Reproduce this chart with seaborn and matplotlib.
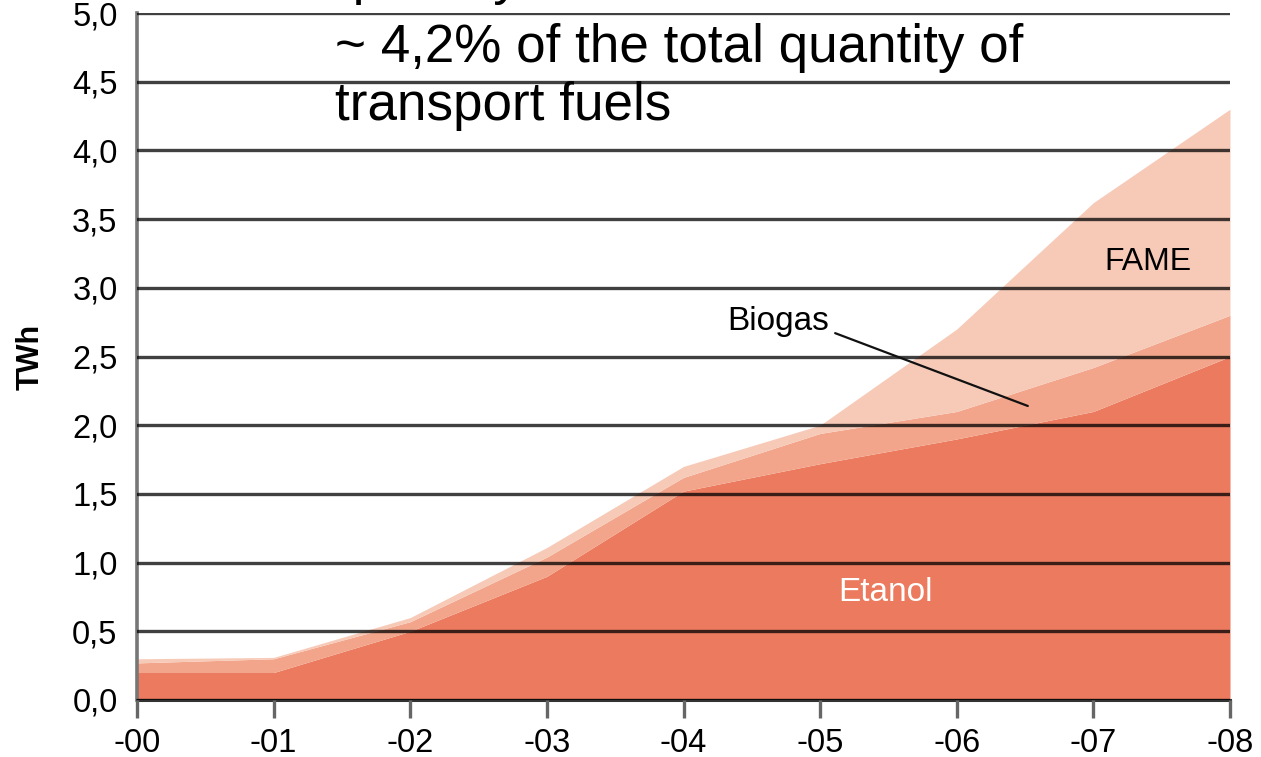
import pandas as pd
import seaborn as sns
import matplotlib.pyplot as plt
from matplotlib.lines import Line2D

# Data (TWh, stacked)
years = ["-00", "-01", "-02", "-03", "-04", "-05", "-06", "-07", "-08"]
etanol = [0.20, 0.20, 0.50, 0.90, 1.52, 1.72, 1.90, 2.10, 2.50]
biogas = [0.07, 0.10, 0.07, 0.14, 0.10, 0.22, 0.20, 0.32, 0.30]
fame = [0.03, 0.01, 0.03, 0.07, 0.08, 0.06, 0.60, 1.20, 1.50]

y_ticks = [0.0, 0.5, 1.0, 1.5, 2.0, 2.5, 3.0, 3.5, 4.0, 4.5, 5.0]
y_ticklabels = ["0,0", "0,5", "1,0", "1,5", "2,0", "2,5", "3,0", "3,5", "4,0", "4,5", "5,0"]

note_lines = ["quantity", "~ 4,2% of the total quantity of", "transport fuels"]

colors = {"Etanol": "#EB7A5E", "Biogas": "#F2A58A", "FAME": "#F7CAB8"}

df = pd.DataFrame({"year": years, "Etanol": etanol, "Biogas": biogas, "FAME": fame})
df["x"] = range(len(df))

sns.set_theme(style="white")
plt.rcParams["font.family"] = ["Liberation Sans", "DejaVu Sans"]

fig = plt.figure(figsize=(12.61, 7.57), dpi=100)
ax = fig.add_axes([137 / 1261, 57 / 757, 1093 / 1261, 687 / 757])

ax.stackplot(df["x"], df["Etanol"], df["Biogas"], df["FAME"],
             colors=[colors["Etanol"], colors["Biogas"], colors["FAME"]],
             linewidth=0, zorder=1)

ax.set_xlim(0, len(years) - 1)
ax.set_ylim(0, 5)
ax.set_xticks(df["x"])
ax.set_xticklabels(df["year"], fontsize=23.5, color="black")
ax.set_yticks(y_ticks)
ax.set_yticklabels(y_ticklabels, fontsize=23.5, color="black")

# horizontal grid drawn on top of the areas
ax.set_axisbelow(False)
ax.yaxis.grid(True, color="black", alpha=0.75, linewidth=2.4)
ax.xaxis.grid(False)

sns.despine(ax=ax, top=True, right=True)
ax.spines["left"].set_color("#777777")
ax.spines["left"].set_linewidth(2.6)
ax.spines["bottom"].set_color("#333333")
ax.spines["bottom"].set_linewidth(2.2)

ax.tick_params(axis="x", direction="out", length=13, width=2.4, color="#666666",
               pad=7, bottom=True)
ax.tick_params(axis="y", length=0, pad=14)

ax.set_ylabel("TWh", fontsize=22, fontweight="bold", labelpad=19, color="black")

# series labels
ax.text(7.40, 3.19, "FAME", fontsize=23, ha="center", va="center", color="black")
ax.text(4.32, 2.69, "Biogas", fontsize=24, ha="left", va="baseline", color="black")
ax.text(5.48, 0.78, "Etanol", fontsize=24, ha="center", va="center", color="white")
ax.add_line(Line2D([5.11, 6.52], [2.67, 2.14], color="#111111", linewidth=1.6, zorder=4))

# slide note on top of the chart (first line is cut by the top edge, as in the source)
note_x = 1.45
note_y = [5.138, 4.643, 4.221]
for line, yb in zip(note_lines, note_y):
    ax.text(note_x, yb, line, fontsize=38.2, ha="left", va="baseline",
            color="black", clip_on=False, zorder=5)

fig.savefig("out.png", dpi=100)
